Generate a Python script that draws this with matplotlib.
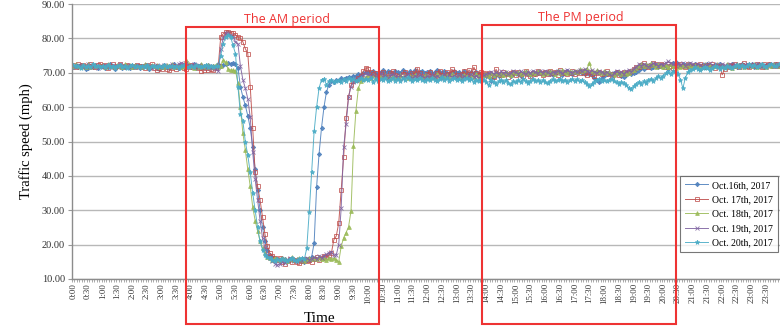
import numpy as np
import matplotlib
matplotlib.use("Agg")
import matplotlib.pyplot as plt
from matplotlib.patches import Rectangle
from matplotlib.ticker import FixedLocator

# ============================================================
# DATA  (5-minute samples, one row per hour)
# ============================================================

times = ["%d:%02d" % (m // 60, m % 60) for m in range(0, 24 * 60, 5)]

oct16 = [
    71.8, 72.1, 71.6, 72.3, 71.9, 71.2, 71.5, 72.0, 71.7, 72.2, 71.4, 71.9,
    72.0, 71.3, 71.8, 72.4, 71.6, 71.1, 71.9, 72.2, 71.5, 71.8, 72.0, 71.4,
    71.7, 72.1, 71.9, 71.3, 71.8, 72.3, 71.6, 71.2, 71.9, 72.0, 71.5, 71.1,
    71.6, 72.2, 71.8, 71.4, 71.9, 72.5, 71.7, 71.3, 72.0, 71.6, 71.9, 72.3,
    71.8, 72.4, 71.5, 72.0, 72.2, 71.6, 71.9, 72.3, 71.7, 72.1, 71.8, 72.4,
    72.0, 72.3, 72.5, 72.8, 72.5, 72.8, 72.5, 71.5, 66.0, 63.0, 60.5, 57.5,
    54.0, 48.5, 42.0, 36.0, 30.0, 25.0, 21.0, 18.5, 17.0, 16.5, 16.0, 15.8,
    15.5, 16.2, 15.8, 15.2, 15.6, 16.0, 15.4, 15.1, 15.7, 15.3, 15.0, 15.6,
    15.8, 16.5, 20.5, 36.8, 46.4, 54.0, 60.0, 64.4, 66.5, 67.5, 67.2, 67.8,
    67.9, 68.4, 68.1, 68.6, 68.9, 68.5, 69.2, 69.0, 69.5, 69.3, 69.8, 70.1,
    70.2, 69.8, 70.5, 70.0, 69.6, 70.3, 70.7, 69.9, 70.4, 70.1, 69.7, 70.6,
    70.3, 69.9, 70.8, 70.2, 69.6, 70.4, 70.0, 70.7, 69.8, 70.2, 70.5, 69.9,
    70.1, 70.6, 69.7, 70.3, 70.9, 70.2, 69.8, 70.4, 70.0, 69.6, 70.3, 70.5,
    69.9, 70.2, 69.7, 70.4, 70.0, 69.5, 70.1, 69.8, 70.3, 69.6, 70.0, 69.4,
    69.2, 68.8, 67.6, 68.9, 69.4, 69.0, 69.6, 69.3, 69.8, 69.5, 69.1, 69.7,
    70.0, 69.6, 69.2, 69.8, 70.2, 69.7, 69.4, 70.0, 69.5, 69.9, 70.3, 69.8,
    69.5, 70.1, 69.7, 69.3, 69.9, 70.4, 69.8, 69.4, 70.0, 70.5, 69.9, 69.6,
    70.2, 69.8, 70.4, 69.9, 69.5, 70.1, 69.7, 69.3, 68.6, 67.8, 67.2, 68.4,
    69.1, 69.6, 70.0, 69.5, 69.8, 70.3, 69.7, 69.2, 68.8, 69.4, 69.9, 69.5,
    69.8, 70.3, 70.8, 71.4, 71.0, 71.6, 72.0, 71.5, 71.8, 72.2, 71.7, 72.0,
    71.6, 72.1, 71.2, 72.4, 72.8, 73.1, 72.5, 72.0, 72.6, 72.2, 71.8, 72.3,
    71.9, 72.4, 72.0, 71.6, 72.2, 71.8, 72.5, 72.1, 71.7, 72.3, 71.9, 72.4,
    72.0, 71.6, 72.3, 71.8, 72.5, 72.1, 71.7, 72.2, 72.6, 71.9, 72.3, 72.0,
    72.4, 71.8, 72.2, 72.6, 72.0, 71.7, 72.3, 72.5, 71.9, 72.2, 72.4, 72.1,
]

oct17 = [
    72.2, 71.8, 72.5, 71.9, 72.3, 72.0, 71.6, 72.4, 72.1, 71.7, 72.3, 72.6,
    71.9, 72.2, 71.5, 72.0, 72.4, 71.8, 72.1, 72.5, 71.7, 72.0, 72.3, 71.9,
    72.1, 71.6, 72.3, 71.9, 72.0, 71.4, 72.2, 71.8, 72.4, 71.5, 70.9, 71.3,
    71.0, 71.6, 71.2, 70.8, 71.4, 71.9, 71.1, 71.7, 72.0, 71.5, 71.2, 71.8,
    72.3, 71.6, 72.0, 71.3, 70.6, 70.9, 71.5, 70.7, 71.2, 70.8, 71.4, 72.0,
    80.5, 81.3, 81.8, 82.0, 81.7, 81.5, 81.0, 80.5, 80.0, 79.0, 77.0, 75.6,
    66.0, 54.0, 41.0, 37.0, 33.0, 28.0, 23.0, 19.5, 17.5, 16.8, 16.0, 15.5,
    16.2, 15.0, 14.5, 15.3, 15.8, 14.9, 15.4, 15.0, 14.6, 15.2, 15.7, 15.1,
    15.5, 15.0, 15.8, 16.3, 15.6, 16.0, 16.8, 16.4, 17.0, 17.5, 21.4, 22.5,
    26.3, 36.0, 45.5, 56.8, 63.0, 66.4, 67.5, 68.0, 68.6, 69.2, 70.4, 71.5,
    71.0, 70.2, 69.5, 70.0, 68.9, 69.6, 70.3, 69.1, 68.7, 69.8, 70.5, 69.4,
    69.0, 68.6, 69.7, 70.2, 69.3, 68.9, 70.0, 69.5, 71.2, 69.8, 69.2, 68.8,
    69.6, 70.3, 69.1, 68.7, 69.9, 70.6, 69.4, 68.9, 70.1, 69.5, 71.0, 70.2,
    69.3, 68.8, 69.7, 70.4, 69.2, 70.8, 69.6, 71.6, 70.0, 69.4, 70.3, 69.8,
    69.5, 70.0, 69.2, 68.8, 71.0, 69.7, 69.3, 70.2, 69.6, 68.9, 69.8, 70.3,
    69.4, 70.1, 69.7, 69.0, 70.4, 69.6, 69.2, 70.0, 69.5, 70.6, 69.9, 69.3,
    70.2, 69.6, 70.5, 69.8, 70.1, 69.4, 70.7, 69.9, 70.3, 69.7, 70.0, 70.4,
    69.6, 70.2, 69.8, 70.5, 69.9, 69.4, 70.1, 69.7, 69.2, 69.8, 70.3, 69.6,
    69.9, 70.4, 69.5, 68.9, 69.7, 70.2, 69.4, 69.9, 70.3, 69.8, 70.1, 70.5,
    71.0, 71.6, 71.8, 72.2, 72.7, 72.1, 71.6, 72.3, 72.8, 72.4, 71.9, 72.6,
    72.2, 71.7, 72.4, 72.0, 71.5, 72.3, 71.9, 72.6, 72.1, 71.8, 72.4, 72.0,
    71.6, 72.2, 71.9, 72.5, 72.0, 71.7, 72.3, 71.8, 72.4, 71.5, 72.1, 71.9,
    69.4, 71.2, 71.8, 72.3, 71.9, 72.5, 72.0, 71.6, 72.2, 72.7, 72.1, 71.8,
    72.3, 72.0, 72.6, 72.1, 71.7, 72.4, 72.0, 72.5, 72.2, 71.9, 72.4, 72.1,
]

oct18 = [
    71.9, 72.4, 72.0, 71.6, 72.2, 71.8, 72.5, 71.7, 72.1, 72.3, 71.9, 72.0,
    72.2, 71.7, 72.4, 71.9, 72.1, 71.6, 72.3, 72.0, 71.8, 72.5, 71.9, 72.2,
    71.8, 72.3, 71.9, 72.1, 71.7, 72.4, 72.0, 71.6, 72.2, 71.9, 72.3, 71.8,
    72.1, 71.7, 72.2, 71.9, 72.4, 71.8, 72.0, 72.3, 71.6, 72.1, 73.7, 72.4,
    72.0, 71.5, 72.2, 71.8, 72.5, 71.9, 71.6, 72.2, 71.8, 72.0, 72.3, 71.7,
    72.0, 73.7, 73.0, 71.0, 70.8, 70.7, 70.6, 67.0, 60.0, 52.5, 47.5, 42.0,
    37.0, 31.0, 27.0, 24.0, 21.0, 19.0, 17.5, 16.5, 16.0, 15.6, 16.2, 15.8,
    15.4, 16.0, 15.7, 15.2, 15.9, 16.3, 15.5, 15.8, 16.1, 15.6, 15.3, 15.9,
    16.2, 15.7, 16.0, 15.8, 16.3, 15.9, 16.0, 15.6, 16.2, 15.8, 16.0, 15.5,
    15.0, 19.5, 22.0, 23.5, 25.2, 29.8, 48.7, 59.0, 65.5, 67.5, 68.2, 68.8,
    69.0, 68.6, 69.3, 68.9, 68.5, 69.1, 68.7, 69.4, 68.8, 68.4, 69.0, 68.6,
    68.9, 69.3, 68.7, 69.0, 68.5, 69.2, 68.8, 69.4, 68.6, 69.1, 68.8, 69.3,
    69.0, 68.6, 69.2, 68.9, 69.5, 68.7, 69.1, 68.8, 69.3, 68.9, 69.6, 69.0,
    68.8, 69.2, 68.6, 69.4, 69.0, 68.7, 69.3, 68.9, 69.5, 69.1, 68.8, 69.3,
    69.6, 69.2, 69.8, 69.4, 70.0, 69.5, 69.9, 69.3, 70.1, 69.7, 69.4, 70.2,
    69.8, 70.3, 69.6, 70.0, 70.4, 69.9, 69.5, 70.2, 69.8, 70.5, 70.1, 69.7,
    70.3, 69.9, 70.6, 70.1, 69.7, 70.4, 70.0, 70.8, 70.2, 69.8, 70.5, 70.1,
    70.6, 70.2, 71.0, 70.4, 70.8, 71.2, 72.8, 70.5, 70.1, 70.7, 70.3, 70.0,
    70.4, 69.9, 70.2, 69.6, 69.3, 69.8, 70.3, 69.7, 70.1, 69.5, 70.0, 70.4,
    70.9, 71.5, 72.0, 72.4, 71.9, 72.5, 72.1, 72.7, 72.3, 71.8, 72.4, 72.0,
    71.6, 72.2, 71.8, 72.4, 72.0, 71.5, 72.1, 71.7, 72.3, 71.9, 72.5, 72.0,
    71.7, 72.3, 71.9, 71.4, 72.0, 72.4, 71.8, 72.2, 71.6, 72.1, 72.5, 71.9,
    72.2, 71.8, 72.4, 72.0, 71.5, 72.1, 72.6, 71.9, 72.3, 71.7, 72.2, 72.5,
    72.0, 72.4, 71.8, 72.2, 72.6, 72.1, 71.7, 72.3, 72.0, 72.5, 72.2, 71.9,
]

oct19 = [
    72.0, 71.6, 72.3, 71.9, 72.1, 71.7, 72.4, 72.0, 71.8, 72.2, 71.5, 72.1,
    71.8, 72.3, 71.9, 71.6, 72.2, 72.0, 71.7, 72.4, 71.9, 72.1, 71.6, 72.2,
    72.0, 71.7, 72.3, 71.8, 72.1, 71.6, 72.2, 71.9, 71.5, 72.0, 72.3, 71.7,
    71.9, 72.2, 71.6, 72.0, 72.4, 71.8, 72.1, 72.6, 72.9, 72.5, 72.8, 72.3,
    72.0, 72.4, 71.8, 72.2, 71.6, 72.0, 71.5, 71.9, 71.3, 71.7, 71.0, 70.5,
    77.0, 80.0, 81.5, 81.5, 81.0, 80.5, 79.0, 78.5, 72.0, 68.0, 65.5, 62.5,
    57.0, 47.0, 39.0, 33.0, 27.0, 22.0, 19.0, 17.0, 16.0, 15.2, 14.5, 14.1,
    14.3, 15.0, 14.6, 15.4, 16.0, 15.7, 15.2, 15.6, 15.9, 15.3, 15.8, 16.2,
    15.5, 15.9, 16.3, 15.8, 16.6, 16.1, 16.8, 17.2, 17.5, 18.0, 17.0, 17.0,
    20.0, 30.7, 48.4, 55.0, 63.0, 66.0, 67.2, 68.0, 68.5, 69.1, 69.4, 69.8,
    69.5, 69.0, 69.6, 68.7, 69.2, 69.8, 68.9, 69.4, 68.6, 69.1, 69.7, 69.0,
    68.8, 69.3, 68.5, 69.0, 69.6, 68.9, 68.4, 69.2, 68.7, 69.4, 69.0, 68.6,
    69.1, 68.7, 69.5, 68.8, 69.2, 68.5, 69.0, 69.6, 68.9, 69.3, 68.7, 69.2,
    68.9, 69.4, 68.6, 69.1, 68.5, 69.0, 69.5, 68.8, 69.2, 68.6, 69.0, 69.3,
    69.5, 69.9, 70.3, 69.7, 70.1, 69.6, 70.4, 69.8, 70.2, 69.5, 70.0, 70.5,
    70.1, 69.7, 70.4, 70.0, 69.6, 70.3, 69.9, 70.6, 70.2, 69.8, 70.4, 70.0,
    70.5, 70.1, 69.7, 70.3, 70.0, 70.6, 70.2, 69.8, 70.4, 70.9, 70.3, 70.0,
    70.6, 70.2, 70.8, 70.4, 71.0, 70.5, 70.1, 70.7, 70.3, 69.9, 70.5, 70.2,
    69.8, 70.3, 69.6, 69.2, 69.8, 70.5, 69.9, 70.2, 69.7, 70.4, 70.8, 70.3,
    71.2, 71.8, 72.4, 72.0, 72.6, 72.2, 71.7, 72.3, 72.8, 72.4, 72.0, 72.6,
    72.3, 72.9, 73.3, 72.8, 72.4, 72.0, 72.6, 72.2, 72.7, 72.1, 72.5, 72.9,
    72.4, 72.0, 72.6, 72.2, 71.8, 72.5, 72.1, 72.7, 72.3, 71.9, 72.4, 72.0,
    72.6, 72.2, 71.8, 72.4, 72.0, 72.5, 72.1, 71.7, 72.3, 72.0, 72.6, 72.2,
    71.9, 72.4, 72.1, 72.5, 72.0, 72.3, 71.8, 72.2, 72.6, 72.1, 72.4, 72.0,
]

oct20 = [
    72.3, 71.9, 72.1, 71.5, 72.2, 71.8, 72.0, 71.6, 72.4, 71.9, 72.1, 71.7,
    72.0, 71.6, 72.3, 71.8, 72.1, 71.5, 71.9, 72.2, 71.7, 72.0, 71.4, 71.9,
    72.2, 71.7, 72.0, 71.6, 72.1, 71.8, 72.3, 71.5, 71.9, 72.0, 71.6, 72.1,
    71.8, 72.2, 71.6, 71.9, 72.1, 71.7, 72.0, 71.5, 71.9, 72.2, 71.6, 71.8,
    72.1, 71.7, 72.3, 71.9, 71.6, 72.0, 72.2, 71.8, 72.1, 71.7, 71.9, 72.0,
    75.0, 78.5, 80.5, 81.0, 80.5, 78.0, 75.5, 66.0, 58.0, 56.0, 50.0, 46.0,
    41.0, 35.0, 30.0, 25.0, 21.0, 18.5, 17.0, 16.5, 16.0, 15.6, 15.2, 15.8,
    15.4, 15.9, 15.5, 15.1, 15.7, 16.0, 15.6, 15.3, 15.8, 16.2, 15.7, 19.0,
    29.5, 41.0, 53.0, 60.0, 65.5, 68.0, 68.2, 66.5, 67.5, 67.8, 67.2, 67.6,
    67.9, 67.3, 68.1, 67.6, 68.4, 67.8, 68.2, 67.5, 68.0, 68.6, 67.9, 68.3,
    67.8, 68.5, 67.4, 68.1, 67.7, 68.3, 67.9, 68.6, 67.5, 68.0, 68.4, 67.7,
    68.2, 67.6, 68.4, 67.9, 68.7, 68.1, 67.5, 68.3, 67.8, 68.5, 68.0, 67.6,
    68.3, 67.8, 68.6, 68.0, 67.5, 68.2, 68.7, 67.9, 68.4, 67.7, 68.1, 68.5,
    67.9, 68.3, 67.6, 68.1, 68.5, 67.8, 68.2, 67.4, 68.0, 67.7, 68.3, 67.9,
    67.3, 66.5, 67.8, 67.2, 66.8, 67.5, 68.0, 67.4, 67.9, 67.1, 66.6, 67.6,
    67.2, 67.8, 67.4, 68.1, 67.6, 67.0, 67.7, 68.2, 67.5, 67.9, 67.3, 67.8,
    67.4, 66.9, 67.7, 68.1, 67.5, 67.9, 68.3, 67.6, 68.0, 67.4, 67.8, 68.2,
    67.7, 68.1, 67.5, 67.9, 67.2, 66.6, 66.1, 66.8, 67.4, 67.9, 68.2, 67.6,
    68.0, 67.5, 67.8, 68.3, 67.6, 67.2, 66.8, 67.3, 67.0, 66.3, 65.6, 65.2,
    66.2, 66.8, 67.3, 66.7, 67.5, 66.9, 67.8, 68.2, 67.6, 68.4, 69.0, 68.5,
    69.2, 69.8, 70.3, 69.7, 70.5, 70.1, 69.6, 68.0, 65.5, 68.5, 70.2, 70.8,
    71.0, 71.6, 71.2, 70.7, 71.4, 71.8, 71.3, 70.9, 71.5, 72.0, 71.6, 71.2,
    71.8, 71.4, 72.1, 71.7, 71.3, 71.9, 72.3, 71.8, 72.2, 71.6, 72.0, 72.4,
    71.9, 72.3, 71.7, 72.1, 72.5, 72.0, 71.8, 72.3, 72.6, 72.1, 71.9, 72.4,
]

labels = ["Oct.16th, 2017", "Oct. 17th, 2017", "Oct. 18th, 2017",
          "Oct. 19th, 2017", "Oct. 20th, 2017"]
series = [oct16, oct17, oct18, oct19, oct20]

# ============================================================
# STYLE
# ============================================================

colors = ["#4f81bd", "#c0504d", "#9bbb59", "#8064a2", "#4bacc6"]
markers = ["D", "s", "^", "x", "*"]
msizes = [2.2, 3.2, 2.7, 2.8, 3.4]
faces = [None, "none", None, None, None]

serif = ["Liberation Serif", "DejaVu Serif"]

fig = plt.figure(figsize=(7.8, 3.26), dpi=100)
ax = fig.add_axes([72 / 780, 1 - 279 / 326, 708 / 780, 275 / 326])

x = np.arange(len(times))
for vals, lab, c, m, ms, fc in zip(series, labels, colors, markers, msizes, faces):
    kw = dict(color=c, marker=m, markersize=ms, linewidth=0.7,
              markeredgewidth=0.6, label=lab, alpha=0.9)
    if fc is not None:
        kw["markerfacecolor"] = fc
    ax.plot(x, vals, **kw)

ax.set_xlim(-0.5, len(times) - 0.5)
ax.set_ylim(10, 90)
ax.set_yticks(np.arange(10, 91, 10))
ax.set_yticklabels(["%.2f" % v for v in np.arange(10, 91, 10)],
                   fontfamily=serif, fontsize=7.5, color="#333333")
ax.yaxis.grid(True, color="#b8b8b8", linewidth=1.0)
ax.set_axisbelow(True)

ax.set_xticks(x[::6])
ax.set_xticklabels(times[::6], rotation=90, fontfamily=serif,
                   fontsize=6.3, color="#333333")
ax.xaxis.set_minor_locator(FixedLocator(np.arange(-0.5, len(times), 1)))
ax.tick_params(axis="x", which="major", length=0, pad=3)
ax.tick_params(axis="x", which="minor", length=2.5, width=0.5, color="#888888")
ax.tick_params(axis="y", length=3, width=0.8, color="#999999", pad=2)

for s in ["top", "right"]:
    ax.spines[s].set_visible(False)
for s in ["left", "bottom"]:
    ax.spines[s].set_color("#8c8c8c")
    ax.spines[s].set_linewidth(1.0)

ax.set_ylabel("Traffic speed (mph)", fontfamily=serif, fontsize=10.5, labelpad=6)
ax.set_xlabel("Time", fontfamily=serif, fontsize=11, va="center")
ax.xaxis.set_label_coords((320 - 72) / 708, -(318 - 279) / 275)

leg = ax.legend(loc="upper right", bbox_to_anchor=(0.997, 0.3745),
                borderaxespad=0, fancybox=False, edgecolor="#555555",
                prop={"family": serif, "size": 7}, handlelength=2.4,
                labelspacing=0.55, borderpad=0.5, handletextpad=0.4)
leg.get_frame().set_linewidth(0.8)

# ============================================================
# PERIOD BOXES
# ============================================================

boxes = [(186, 379, 27, "The AM period", 287), (482, 676, 25, "The PM period", 581)]
for x0, x1, ytop, txt, xc in boxes:
    fig.add_artist(Rectangle((x0 / 780, 1 - 324 / 326), (x1 - x0) / 780,
                             (324 - ytop) / 326, transform=fig.transFigure,
                             fill=False, edgecolor="#ee3333", linewidth=1.5))
    fig.text(xc / 780, 1 - (ytop - 8) / 326, txt, color="#ee3333",
             fontfamily="Open Sans", fontsize=9, ha="center", va="center")

fig.savefig("out.png", dpi=100)
